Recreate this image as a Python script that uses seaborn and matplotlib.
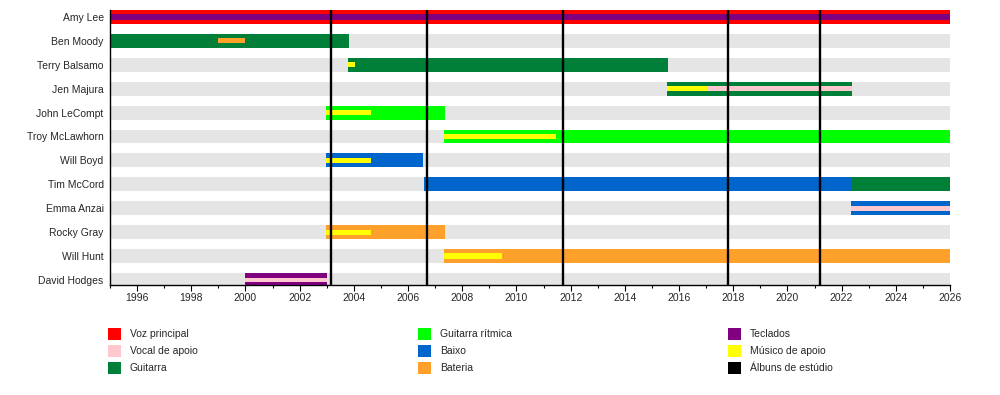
import matplotlib
matplotlib.use('Agg')
import matplotlib.pyplot as plt
from matplotlib.patches import Rectangle
from matplotlib.ticker import MultipleLocator
import seaborn as sns
import pandas as pd

# ── data ──────────────────────────────────────────────
members = ['Amy Lee', 'Ben Moody', 'Terry Balsamo', 'Jen Majura', 'John LeCompt',
           'Troy McLawhorn', 'Will Boyd', 'Tim McCord', 'Emma Anzai', 'Rocky Gray',
           'Will Hunt', 'David Hodges']

# main bars: member, start, end, role
main_member = ['Amy Lee', 'Ben Moody', 'Terry Balsamo', 'Jen Majura', 'John LeCompt',
               'Troy McLawhorn', 'Will Boyd', 'Tim McCord', 'Tim McCord', 'Emma Anzai',
               'Rocky Gray', 'Will Hunt', 'David Hodges']
main_start = [1995.0, 1995.0, 2003.78, 2015.54, 2002.97, 2007.32, 2002.97, 2006.59,
              2022.38, 2022.34, 2002.97, 2007.32, 1999.98]
main_end = [2026.0, 2003.82, 2015.58, 2022.38, 2007.36, 2026.0, 2006.54, 2022.38,
            2026.0, 2026.0, 2007.36, 2026.0, 2003.0]
main_role = ['Voz principal', 'Guitarra', 'Guitarra', 'Guitarra', 'Guitarra rítmica',
             'Guitarra rítmica', 'Baixo', 'Baixo', 'Guitarra', 'Baixo', 'Bateria',
             'Bateria', 'Teclados']

# thin stripes drawn over the main bars
strp_member = ['Amy Lee', 'Ben Moody', 'Terry Balsamo', 'Jen Majura', 'Jen Majura',
               'John LeCompt', 'Troy McLawhorn', 'Will Boyd', 'Emma Anzai',
               'Rocky Gray', 'Will Hunt', 'David Hodges']
strp_start = [1995.0, 1999.0, 2003.78, 2015.54, 2015.54, 2002.97, 2007.32, 2002.97,
              2022.34, 2002.97, 2007.32, 1999.98]
strp_end = [2026.0, 2000.0, 2004.05, 2022.38, 2017.07, 2004.62, 2011.45, 2004.62,
            2026.0, 2004.62, 2009.46, 2003.0]
strp_role = ['Teclados', 'Bateria', 'Músico de apoio', 'Vocal de apoio', 'Músico de apoio',
             'Músico de apoio', 'Músico de apoio', 'Músico de apoio', 'Vocal de apoio',
             'Músico de apoio', 'Músico de apoio', 'Vocal de apoio']

albums = [2003.15, 2006.71, 2011.72, 2017.81, 2021.21]

legend_labels = ['Voz principal', 'Vocal de apoio', 'Guitarra', 'Guitarra rítmica', 'Baixo',
                 'Bateria', 'Teclados', 'Músico de apoio', 'Álbuns de estúdio']

colors = {
    'Voz principal': '#ff0000',
    'Vocal de apoio': '#ffc8cf',
    'Guitarra': '#007f38',
    'Guitarra rítmica': '#00ff00',
    'Baixo': '#0066cc',
    'Bateria': '#ffa02a',
    'Teclados': '#800080',
    'Músico de apoio': '#ffff00',
    'Álbuns de estúdio': '#000000',
}
stripe_h = {'Vocal de apoio': 0.19}

# ── figure ────────────────────────────────────────────
sns.set_theme(style='white')
plt.rcParams['font.family'] = ['Liberation Sans', 'DejaVu Sans']

fig = plt.figure(figsize=(10, 3.95), dpi=100)
ax = fig.add_axes([0.11, 1 - 285 / 395, 0.84, 275 / 395])

BAR_H = 0.585

# gray row backgrounds
bg = pd.DataFrame({'member': members, 'end': [2026.0] * len(members)})
sns.barplot(data=bg, x='end', y='member', order=members, color='#e5e5e5',
            width=BAR_H, saturation=1, linewidth=0, ax=ax, zorder=1)

ypos = {m: i for i, m in enumerate(members)}

ax.barh([ypos[m] for m in main_member],
        [e - s for s, e in zip(main_start, main_end)],
        left=main_start, height=BAR_H,
        color=[colors[r] for r in main_role], linewidth=0, zorder=2)

ax.barh([ypos[m] for m in strp_member],
        [e - s for s, e in zip(strp_start, strp_end)],
        left=strp_start, height=[stripe_h.get(r, 0.22) for r in strp_role],
        color=[colors[r] for r in strp_role], linewidth=0, zorder=3)

for a in albums:
    ax.axvline(a, color='black', lw=1.7, zorder=4)

ax.set_xlim(1995, 2026)
ax.set_ylim(len(members) - 1 + 0.21, -0.29)
ax.set_xlabel('')
ax.set_ylabel('')

ax.xaxis.set_major_locator(MultipleLocator(2))
ax.xaxis.set_minor_locator(MultipleLocator(1))
ax.set_xticks(range(1996, 2027, 2))
ax.tick_params(axis='x', which='major', bottom=True, length=4, width=0.8,
               labelsize=7.5, pad=2, color='black')
ax.tick_params(axis='x', which='minor', bottom=True, length=2.5, width=0.8, color='black')
ax.tick_params(axis='y', left=False, length=0, labelsize=7.5, pad=4.5)

for side in ['top', 'right']:
    ax.spines[side].set_visible(False)
for side in ['left', 'bottom']:
    ax.spines[side].set_color('black')
    ax.spines[side].set_linewidth(1.0)
    ax.spines[side].set_zorder(5)

# legend in three columns
col_x = [108, 418, 728]
row_y = [334, 351, 368]
for i, lab in enumerate(legend_labels):
    x0 = col_x[i // 3]
    y0 = row_y[i % 3]
    fig.add_artist(Rectangle((x0 / 1000, 1 - (y0 + 6) / 395), 13 / 1000, 12 / 395,
                             transform=fig.transFigure, color=colors[lab], lw=0))
    fig.text((x0 + 22) / 1000, 1 - y0 / 395, lab, fontsize=7.5, va='center', ha='left')

fig.savefig('out.png', dpi=100)
